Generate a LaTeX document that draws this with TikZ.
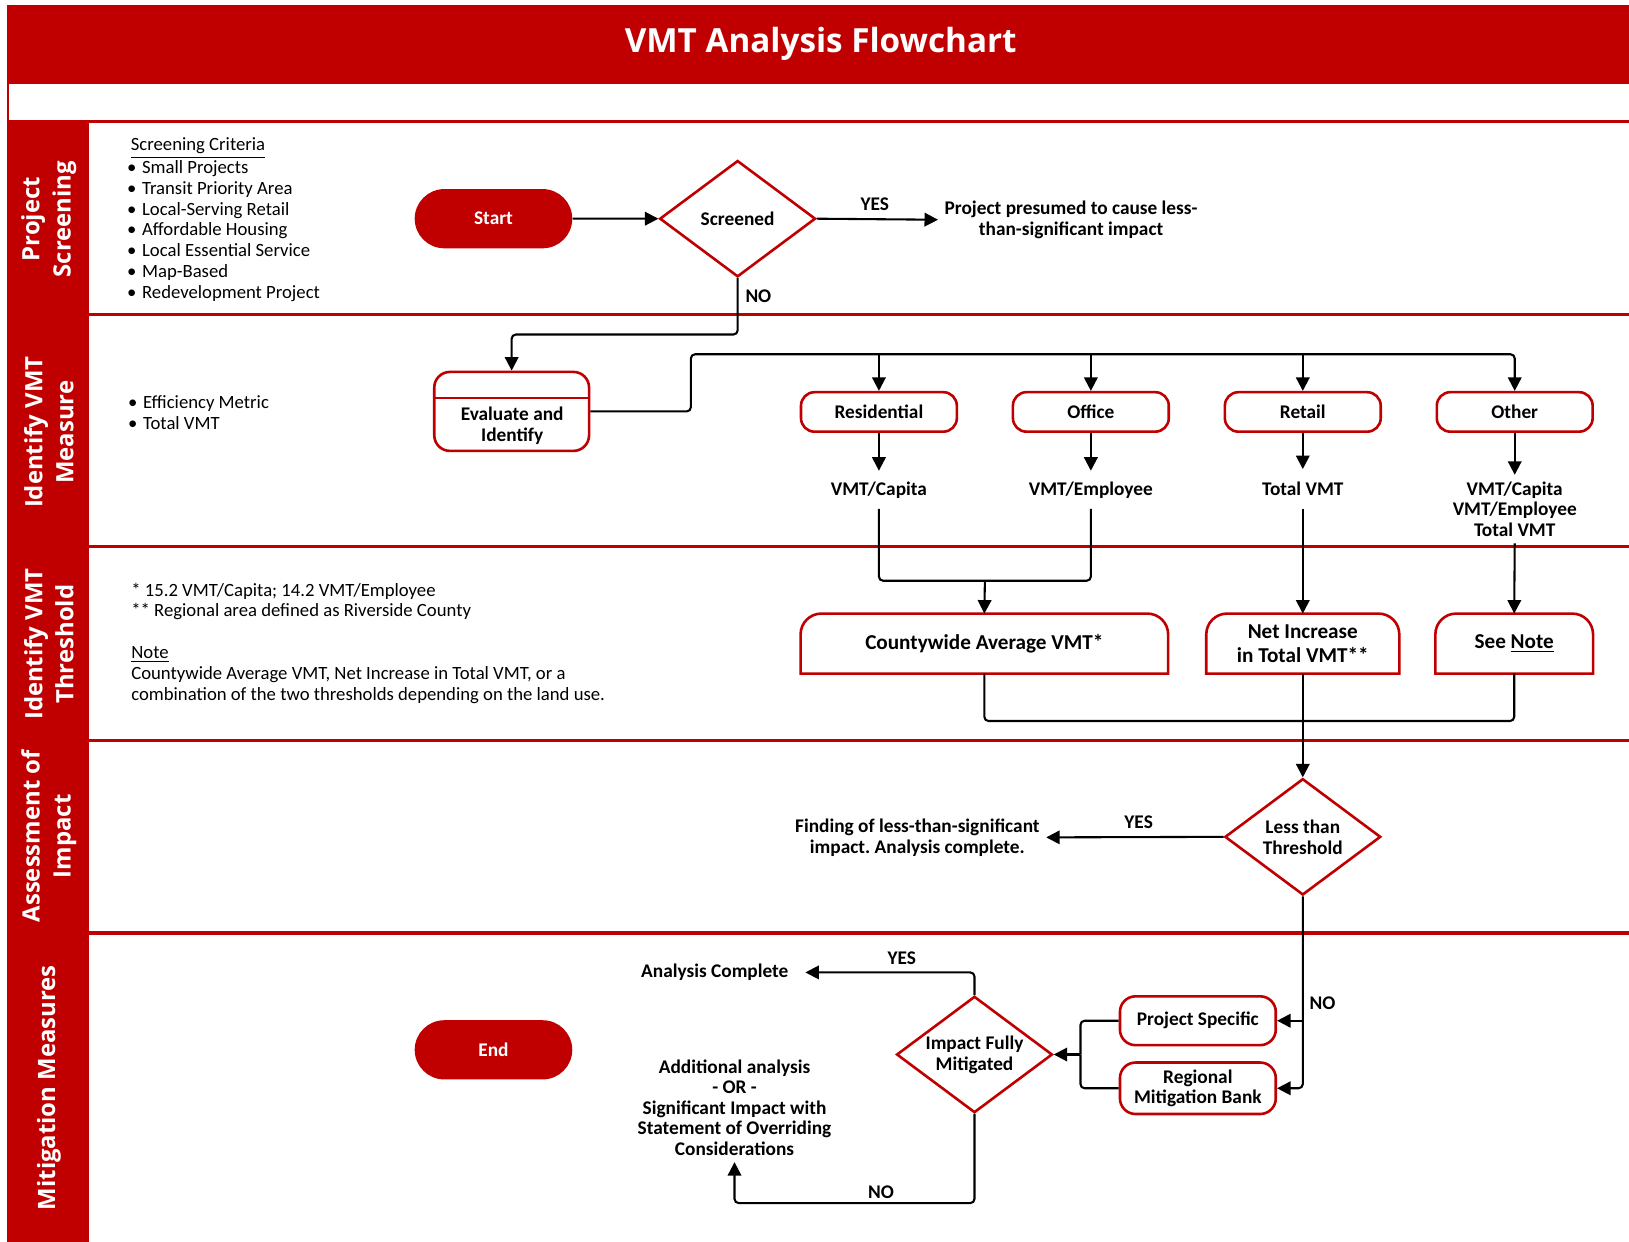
\documentclass[tikz,border=0pt]{standalone}
\usepackage{fontspec}
\setmainfont{Carlito}
\newfontfamily\lanefont{Open Sans}
\usetikzlibrary{shapes.geometric,shapes.misc,arrows.meta,calc}
\definecolor{vred}{HTML}{C00000}
\frenchspacing
\newcommand\mybul{\makebox[7.2pt][l]{\textbullet}}
\newcommand\tabbox[1]{\draw[vred,line width=1.25pt] (#1.south west) -- ([yshift=-10pt]#1.north west) arc[start angle=180,end angle=90,radius=10pt] -- ([xshift=-10pt]#1.north east) arc[start angle=90,end angle=0,radius=10pt] -- (#1.south east) -- cycle;}
\begin{document}
\begin{tikzpicture}[x=0.5pt,y=-0.5pt,
  conn/.style={draw=black,line width=1pt,rounded corners=2pt},
  arr/.style={conn,-{Triangle[length=6.5pt,width=6.5pt]}},
  lane/.style={rotate=90,text=white,font=\lanefont\bfseries\fontsize{11.5}{15}\selectfont,align=center,inner sep=0pt},
  body/.style={font=\fontsize{9}{10}\selectfont,align=left,inner sep=0pt},
  lbl/.style={font=\bfseries\fontsize{9.3}{10}\selectfont,align=center,inner sep=3pt},
  term/.style={rounded rectangle,fill=vred,minimum width=82.5pt,minimum height=28.5pt,text=white,font=\bfseries\fontsize{9.3}{10}\selectfont},
  dec/.style={diamond,draw=vred,line width=1.25pt,fill=white,minimum width=75pt,minimum height=56pt,inner sep=0pt,shape aspect=1.34},
  cat/.style={rectangle,draw=vred,line width=1.25pt,fill=white,rounded corners=6.5pt,minimum width=75pt,minimum height=19pt,font=\bfseries\fontsize{9.3}{10}\selectfont,align=center},
  thr/.style={rectangle,minimum height=28.5pt,font=\bfseries\fontsize{10.2}{12}\selectfont,align=center,inner sep=0pt},
  sep/.style={draw=vred,line width=1.5pt}
]
\useasboundingbox (0,0) rectangle (1568,1195);
% title band
\fill[vred] (7,5) rectangle (1568,81);
\fill[vred] (7,81) rectangle (9,117);
\node[font=\lanefont\bfseries\fontsize{16}{18}\selectfont,text=white] (title) at (790,42) {VMT Analysis Flowchart};
% lanes
\fill[vred] (7,117) rectangle (85.7,1195);
\draw[sep] (7,117) -- (1568,117);
\draw[sep] (85,303) -- (1568,303);
\draw[sep] (85,526) -- (1568,526);
\draw[sep] (85,713) -- (1568,713);
\draw[sep] (85,898) -- (1568,898);
\node[lane] (l1) at (47,211) {Project\\Screening};
\node[lane] (l2) at (47,416) {Identify VMT\\Measure};
\node[lane] (l3) at (47,620) {Identify VMT\\Threshold};
\node[lane] (l4) at (47,805) {Assessment of\\Impact};
\node[lane] (l5) at (47,1047) {Mitigation Measures};
% lane notes
\node[body,anchor=west] (crit) at (122,211.5) {\hspace*{1.8pt}\underline{Screening Criteria}\\[1pt]
\mybul Small Projects\\ \mybul Transit Priority Area\\ \mybul Local-Serving Retail\\
\mybul Affordable Housing\\ \mybul Local Essential Service\\ \mybul Map-Based\\ \mybul Redevelopment Project};
\node[body,anchor=west] (meas) at (123,397) {\mybul Efficiency Metric\\ \mybul Total VMT};
\node[body,anchor=west] (thrn) at (126,619) {* 15.2 VMT/Capita; 14.2 VMT/Employee\\
** Regional area defined as Riverside County\\[10pt]
\underline{Note}\\
Countywide Average VMT, Net Increase in Total VMT, or a\\
combination of the two thresholds depending on the land use.};
% coordinates
\coordinate (c1) at (710,322);
\coordinate (bus) at (665,341);
\coordinate (mrg) at (948,559);
\coordinate (mrg2) at (1254,694);
\coordinate (jn) at (1040,1015);
\coordinate (nob) at (707,1158);
\coordinate (evl) at (0,383);
% nodes
\node[term] (start) at (475,210.5) {Start};
\node[term] (end) at (475,1010.5) {End};
\node[dec] (scr) at (710,210.5) {};
\node[lbl] (scrt) at (710,211) {Screened};
\node[lbl] (pres) at (1031,211.5) {Project presumed to cause less-\\than-significant impact};
\node[cat,minimum width=74.5pt,minimum height=38pt,rounded corners=7.5pt] (eval) at (492.5,396) {};
\draw[vred,line width=1.25pt] (eval.west |- evl) -- (eval.east |- evl);
\node[lbl] (evalt) at (493,410) {Evaluate and\\Identify};
\node[cat] (res) at (846,396.5) {Residential};
\node[cat] (off) at (1050,396.5) {Office};
\node[cat] (ret) at (1254,396.5) {Retail};
\node[cat] (oth) at (1458,396.5) {Other};
\node[lbl,inner ysep=5pt] (vcap) at (846,471.5) {VMT/Capita};
\node[lbl,inner ysep=5pt] (vemp) at (1050,471.5) {VMT/Employee};
\node[lbl,inner ysep=6pt] (tvmt) at (1254,470.5) {Total VMT};
\node[lbl,inner ysep=3pt] (othv) at (1458,490) {VMT/Capita\\VMT/Employee\\Total VMT};
\node[thr,minimum width=176.5pt] (cwa) at (947.5,619.5) {\raisebox{-1pt}{Countywide Average VMT*}};
\node[thr,minimum width=92.5pt] (net) at (1254,619.5) {\raisebox{-1pt}{\shortstack{Net Increase\\[1.5pt]in Total VMT**}}};
\node[thr,minimum width=75.5pt] (note) at (1457.5,619.5) {\raisebox{-1pt}{See \underline{Note}}};
\tabbox{cwa}
\tabbox{net}
\tabbox{note}
\node[dec] (lt) at (1254,805.5) {};
\node[lbl] (ltt) at (1254,806) {Less than\\Threshold};
\node[lbl] (find) at (883,806) {Finding of less-than-significant\\impact. Analysis complete.};
\node[cat,minimum width=75pt,minimum height=23.5pt,rounded corners=7.5pt] (ps) at (1153,982.5) {Project Specific};
\node[cat,minimum width=75pt,minimum height=23.5pt,rounded corners=7.5pt] (rmb) at (1153,1047.5) {Regional\\Mitigation Bank};
\node[dec] (ifm) at (938,1015) {};
\node[lbl] (ifmt) at (938,1015.5) {Impact Fully\\Mitigated};
\node[lbl,inner xsep=8pt] (ac) at (688,936) {Analysis Complete};
\node[lbl,font=\bfseries\fontsize{9.3}{9.9}\selectfont] (add) at (707,1066) {Additional analysis\\- OR -\\Significant Impact with\\Statement of Overriding\\Considerations};
% labels
\node[lbl] (yes1) at (842,196.5) {YES};
\node[lbl] (no1) at (730,285) {NO};
\node[lbl] (yes2) at (1096,791.5) {YES};
\node[lbl] (no2) at (1273,965.5) {NO};
\node[lbl] (yes3) at (868,922.5) {YES};
\node[lbl] (no3) at (848,1147.5) {NO};
% connectors
\draw[arr] (start) -- (scr);
\draw[arr] (scr.east) -- (pres.west);
\draw[arr] (scr.south) -- (c1) -| (eval.north);
\draw[arr] (eval.east) -| (bus) -| (oth.north);
\draw[arr] (res.north |- bus) -- (res.north);
\draw[arr] (off.north |- bus) -- (off.north);
\draw[arr] (ret.north |- bus) -- (ret.north);
\draw[arr] (res) -- (vcap);
\draw[arr] (off) -- (vemp);
\draw[arr] (ret) -- (tvmt);
\draw[arr] (oth) -- (othv);
\draw[conn] (vcap.south) |- (mrg);
\draw[conn] (vemp.south) |- (mrg);
\draw[arr] (mrg) -- (cwa.north);
\draw[arr] (tvmt.south) -- (net.north);
\draw[arr] (othv.south) -- (note.north);
\draw[conn] (cwa.south) |- (mrg2);
\draw[conn] (note.south) |- (mrg2);
\draw[arr] (net.south) -- (lt.north);
\draw[arr] (lt.west) -- (find.east);
\draw[arr] (lt.south) |- (rmb.east);
\draw[arr] (lt.south |- ps.east) -- (ps.east);
\draw[conn] (ps.west) -| (jn);
\draw[conn] (rmb.west) -| (jn);
\draw[arr] (jn) -- (ifm.east);
\draw[arr] (ifm.north) |- (ac.east);
\draw[arr] (ifm.south) |- (nob) -- (add.south);
\end{tikzpicture}
\end{document}
